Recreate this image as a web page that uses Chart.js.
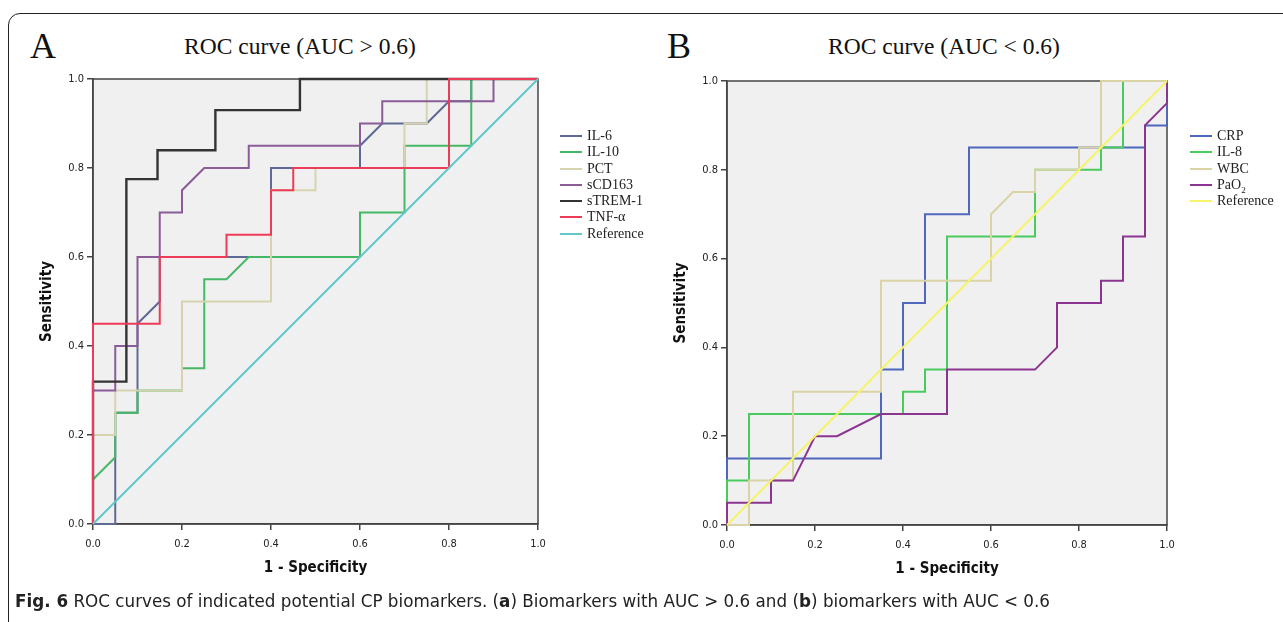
<!DOCTYPE html>
<html><head><meta charset="utf-8">
<script src="https://cdn.jsdelivr.net/npm/chart.js@4.4.1/dist/chart.umd.min.js"></script>
<style>
html,body{margin:0;padding:0;background:#fff;width:1283px;height:622px;overflow:hidden;position:relative}
#frame{position:absolute;left:8px;top:13px;width:1400px;height:720px;border:1.5px solid #222;border-radius:12px;box-sizing:border-box}
.letter{position:absolute;font-family:'Liberation Serif',serif;font-size:36px;color:#111;line-height:1}
.title{position:absolute;font-family:'Liberation Serif',serif;font-size:23.5px;color:#111;white-space:nowrap;transform:translate(-50%,-50%);line-height:1}
.cv{position:absolute;top:0}
.legend{position:absolute;font-family:'Liberation Serif',serif;font-size:14px;color:#222}
.legend .row{display:flex;align-items:center;height:16.25px;white-space:nowrap}
.legend .sw{width:22px;height:2px;margin-right:5px}
.legend sub{font-size:9px;line-height:0}
#caption{position:absolute;left:15px;top:590px;font-family:'Liberation Sans Narrow','DejaVu Sans Condensed','Liberation Sans',sans-serif;font-size:18px;color:#222;white-space:nowrap;transform-origin:left center}
#caption b{font-weight:bold}
</style></head><body>
<div id="frame"></div>
<div class="letter" style="left:30px;top:28px">A</div>
<div class="letter" style="left:667px;top:28px">B</div>
<div class="title" style="left:300px;top:47px">ROC curve (AUC &gt; 0.6)</div>
<div class="title" style="left:944px;top:47px">ROC curve (AUC &lt; 0.6)</div>
<canvas id="cA" class="cv" style="left:0px" width="560" height="622"></canvas>
<canvas id="cB" class="cv" style="left:640px" width="643" height="622"></canvas>
<div id="legA" class="legend" style="left:560px;top:128px"></div>
<div id="legB" class="legend" style="left:1190px;top:128px"></div>
<div id="caption"><b>Fig. 6</b> ROC curves of indicated potential CP biomarkers. (<b>a</b>) Biomarkers with AUC &gt; 0.6 and (<b>b</b>) biomarkers with AUC &lt; 0.6</div>
<script>
// ---- tick labels ----
const tickValues = [0.0, 0.2, 0.4, 0.6, 0.8, 1.0];

// ---- Panel A: AUC > 0.6 (x = 1 - specificity, y = sensitivity) ----
const seriesNamesA = ['IL-6', 'IL-10', 'PCT', 'sCD163', 'sTREM-1', 'TNF-α', 'Reference'];
const il6X  = [0, 0.05, 0.05, 0.10, 0.10, 0.15, 0.15, 0.40, 0.40, 0.60, 0.60, 0.65, 0.75, 0.80, 0.85, 0.85, 1.0];
const il6Y  = [0, 0,    0.25, 0.25, 0.45, 0.50, 0.60, 0.60, 0.80, 0.80, 0.85, 0.90, 0.90, 0.95, 0.95, 1.0,  1.0];
const il10X = [0, 0,    0.05, 0.05, 0.10, 0.10, 0.20, 0.20, 0.25, 0.25, 0.30, 0.35, 0.60, 0.60, 0.70, 0.70, 0.85, 0.85, 1.0];
const il10Y = [0, 0.10, 0.15, 0.25, 0.25, 0.30, 0.30, 0.35, 0.35, 0.55, 0.55, 0.60, 0.60, 0.70, 0.70, 0.85, 0.85, 1.0,  1.0];
const pctX  = [0, 0,    0.05, 0.05, 0.20, 0.20, 0.40, 0.40, 0.50, 0.50, 0.70, 0.70, 0.75, 0.75, 1.0];
const pctY  = [0, 0.20, 0.20, 0.30, 0.30, 0.50, 0.50, 0.75, 0.75, 0.80, 0.80, 0.90, 0.90, 1.0,  1.0];
const cd163X = [0, 0,    0.05, 0.05, 0.10, 0.10, 0.15, 0.15, 0.20, 0.20, 0.25, 0.35, 0.35, 0.60, 0.60, 0.65, 0.65, 0.90, 0.90, 1.0];
const cd163Y = [0, 0.30, 0.30, 0.40, 0.40, 0.60, 0.60, 0.70, 0.70, 0.75, 0.80, 0.80, 0.85, 0.85, 0.90, 0.90, 0.95, 0.95, 1.0,  1.0];
const tremX = [0, 0,    0.075, 0.075, 0.145, 0.145, 0.275, 0.275, 0.465, 0.465, 1.0];
const tremY = [0, 0.32, 0.32,  0.775, 0.775, 0.84,  0.84,  0.93,  0.93,  1.0,   1.0];
const tnfX  = [0, 0,    0.15, 0.15, 0.30, 0.30, 0.40, 0.40, 0.45, 0.45, 0.80, 0.80, 1.0];
const tnfY  = [0, 0.45, 0.45, 0.60, 0.60, 0.65, 0.65, 0.75, 0.75, 0.80, 0.80, 1.0,  1.0];
const refAX = [0, 1];
const refAY = [0, 1];
const colorsA = ['#5f6a94', '#45b866', '#d7d3b1', '#8a5c98', '#333333', '#ee3b57', '#62c7c8'];

// ---- Panel B: AUC < 0.6 ----
const seriesNamesB = ['CRP', 'IL-8', 'WBC', 'PaO2', 'Reference'];
const crpX = [0, 0,    0.35, 0.35, 0.40, 0.40, 0.45, 0.45, 0.55, 0.55, 0.95, 0.95, 1.0,  1.0];
const crpY = [0, 0.15, 0.15, 0.35, 0.35, 0.50, 0.50, 0.70, 0.70, 0.85, 0.85, 0.90, 0.90, 1.0];
const il8X = [0, 0,    0.05, 0.05, 0.40, 0.40, 0.45, 0.45, 0.50, 0.50, 0.70, 0.70, 0.85, 0.85, 0.90, 0.90, 1.0];
const il8Y = [0, 0.10, 0.10, 0.25, 0.25, 0.30, 0.30, 0.35, 0.35, 0.65, 0.65, 0.80, 0.80, 0.85, 0.85, 1.0,  1.0];
const wbcX = [0, 0.05, 0.05, 0.15, 0.15, 0.35, 0.35, 0.60, 0.60, 0.65, 0.70, 0.70, 0.80, 0.80, 0.85, 0.85, 1.0];
const wbcY = [0, 0,    0.10, 0.10, 0.30, 0.30, 0.55, 0.55, 0.70, 0.75, 0.75, 0.80, 0.80, 0.85, 0.85, 1.0,  1.0];
const pao2X = [0, 0,    0.10, 0.10, 0.15, 0.20, 0.25, 0.35, 0.50, 0.50, 0.70, 0.75, 0.75, 0.85, 0.85, 0.90, 0.90, 0.95, 0.95, 1.0,  1.0];
const pao2Y = [0, 0.05, 0.05, 0.10, 0.10, 0.20, 0.20, 0.25, 0.25, 0.35, 0.35, 0.40, 0.50, 0.50, 0.55, 0.55, 0.65, 0.65, 0.90, 0.95, 1.0];
const refBX = [0, 1];
const refBY = [0, 1];
const colorsB = ['#4f67bd', '#4acb5d', '#d9d3a6', '#8b3591', '#f6f46a'];

const NARROW = "'Liberation Sans Narrow','DejaVu Sans Condensed','Liberation Sans',sans-serif";

function toPts(xs, ys) { return xs.map((x, i) => ({x: x, y: ys[i]})); }

const plotFrame = {
  id: 'plotFrame',
  beforeDraw(chart) {
    const a = chart.chartArea, c = chart.ctx;
    c.save(); c.fillStyle = '#f0f0f0'; c.fillRect(a.left, a.top, a.right - a.left, a.bottom - a.top); c.restore();
  },
  beforeDatasetsDraw(chart) {
    const a = chart.chartArea, c = chart.ctx;
    c.save(); c.strokeStyle = '#444'; c.lineWidth = 1.5;
    c.strokeRect(a.left, a.top, a.right - a.left, a.bottom - a.top); c.restore();
  }
};

function makeChart(id, names, xs, ys, colors, geo) {
  const n = names.length;
  const datasets = names.map((nm, i) => ({
    label: nm,
    data: toPts(xs[i], ys[i]),
    showLine: true,
    borderColor: colors[i],
    backgroundColor: colors[i],
    borderWidth: nm === 'sTREM-1' ? 2.4 : 2,
    pointRadius: 0,
    tension: 0,
    clip: 4,
    order: n - i
  }));
  const axisCommon = {
    type: 'linear', min: 0, max: 1,
    afterBuildTicks: s => { s.ticks = tickValues.map(v => ({value: v})); },
    grid: {drawOnChartArea: false, drawTicks: true, tickLength: 6, color: '#444', lineWidth: 1.5},
    border: {display: true, color: '#444', width: 1.5}
  };
  return new Chart(document.getElementById(id), {
    type: 'scatter',
    data: {datasets},
    options: {
      responsive: false, animation: false, devicePixelRatio: 1,
      layout: {padding: geo.padding},
      plugins: {legend: {display: false}, tooltip: {enabled: false}},
      scales: {
        x: Object.assign({}, axisCommon, {
          position: 'bottom',
          afterFit: s => { s.height = 60; },
          ticks: {callback: v => v.toFixed(1), padding: 8, color: '#222', font: {family: NARROW, size: 11}, maxRotation: 0},
          title: {display: true, text: '1 - Specificity', color: '#111', font: {family: NARROW, size: 15, weight: 'bold'}, padding: {bottom: 7}}
        }),
        y: Object.assign({}, axisCommon, {
          position: 'left',
          afterFit: s => { s.width = geo.yWidth; },
          ticks: {callback: v => v.toFixed(1), padding: 3, color: '#222', font: {family: NARROW, size: 11}},
          title: {display: true, text: 'Sensitivity', color: '#111', font: {family: NARROW, size: 15, weight: 'bold'}, padding: {top: geo.yTitlePad}}
        })
      }
    },
    plugins: [plotFrame]
  });
}

function makeLegend(elId, names, colors) {
  const el = document.getElementById(elId);
  el.innerHTML = names.map((nm, i) =>
    '<div class="row"><span class="sw" style="background:' + colors[i] + '"></span><span>' +
    nm.replace('O2', 'O<sub>2</sub>') + '</span></div>').join('');
}

makeChart('cA', seriesNamesA,
  [il6X, il10X, pctX, cd163X, tremX, tnfX, refAX],
  [il6Y, il10Y, pctY, cd163Y, tremY, tnfY, refAY],
  colorsA, {padding: {left: 0, top: 79, right: 22, bottom: 38}, yWidth: 93, yTitlePad: 38});
makeChart('cB', seriesNamesB,
  [crpX, il8X, wbcX, pao2X, refBX],
  [crpY, il8Y, wbcY, pao2Y, refBY],
  colorsB, {padding: {left: 0, top: 81, right: 116, bottom: 37}, yWidth: 87, yTitlePad: 32});
makeLegend('legA', seriesNamesA, colorsA);
makeLegend('legB', seriesNamesB, colorsB);

// fit caption width to the reference span
const cap = document.getElementById('caption');
const w = cap.getBoundingClientRect().width;
cap.style.transform = 'scaleX(' + (1035 / w) + ')';
</script>
</body></html>
